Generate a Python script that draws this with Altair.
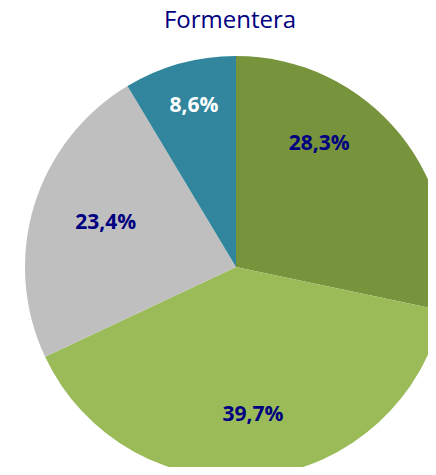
import math
import altair as alt
import pandas as pd

TITLE = "Formentera"
labels = ["28,3%", "39,7%", "23,4%", "8,6%"]
values = [28.3, 39.7, 23.4, 8.6]
colors = ["#77933C", "#9BBB59", "#BFBFBF", "#31859C"]

# styling: per-label angular nudge (in value units) and label radius (px)
label_nudge = {"28,3%": -4.8, "39,7%": 0.0, "23,4%": 0.65, "8,6%": 0.27}
label_radius = {"28,3%": 150, "39,7%": 147, "23,4%": 138, "8,6%": 168}

CX, CY, R = 228, 259, 211
total = float(sum(values))

df = pd.DataFrame({"order": list(range(len(values))), "value": values, "label": labels})


def expr_from(d):
    s = "0"
    for k, v in reversed(list(d.items())):
        s = f"(datum.label == '{k}' ? {v} : {s})"
    return s


arcs = alt.Chart(df).mark_arc(outerRadius=R, x=CX, y=CY, strokeWidth=0).encode(
    theta=alt.Theta("value:Q", stack=True),
    color=alt.Color("label:N", scale=alt.Scale(domain=labels, range=colors), legend=None),
    order=alt.Order("order:Q"),
)

text = (
    alt.Chart(df)
    .transform_window(cum="sum(value)", sort=[alt.SortField("order")])
    .transform_calculate(
        mid=f"datum.cum - datum.value / 2 + {expr_from(label_nudge)}",
        r=expr_from(label_radius),
    )
    .mark_text(x=CX, y=CY, dy=2, font="Open Sans", fontSize=21, fontWeight="bold",
               align="center", baseline="middle")
    .encode(
        theta=alt.Theta("mid:Q", scale=alt.Scale(domain=[0, total], range=[0, 2 * math.pi])),
        radius=alt.Radius("r:Q", scale=None),
        text="label:N",
        color=alt.condition(alt.datum.label == "8,6%", alt.value("white"), alt.value("#000080")),
    )
)

title = alt.Chart(pd.DataFrame({"t": [TITLE]})).mark_text(
    x=222, y=20, font="Open Sans", fontSize=24, color="#000080",
    align="center", baseline="alphabetic",
).encode(text="t:N")

chart = (
    alt.layer(arcs, text, title)
    .resolve_scale(theta="independent")
    .properties(width=420, height=459, autosize=alt.AutoSizeParams(type="none"), padding=0)
    .configure_view(stroke=None)
)

chart.save("out.html", embed_options={"renderer": "svg", "actions": False})
